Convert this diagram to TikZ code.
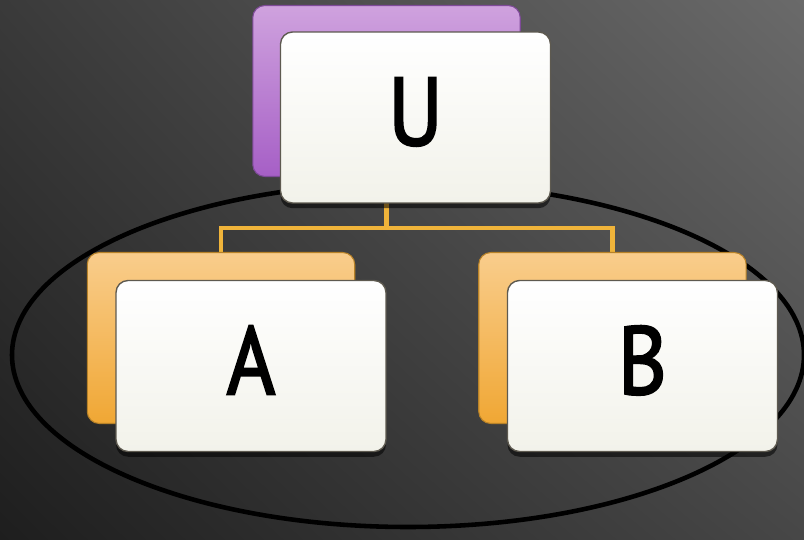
\documentclass[tikz,border=0pt]{standalone}
\usepackage{fontspec}
\newfontfamily\cardfont[FakeStretch=0.86, FakeBold=2.2]{PT Sans}
\usetikzlibrary{positioning,backgrounds,shadows,shadings}
\definecolor{bgul}{HTML}{3A3A3A}
\definecolor{bgur}{HTML}{6A6A6A}
\definecolor{bgll}{HTML}{1E1E1E}
\definecolor{bglr}{HTML}{474747}
\definecolor{purpletop}{HTML}{CFA2DE}
\definecolor{purplebot}{HTML}{A65FC6}
\definecolor{purpleedge}{HTML}{7E4A98}
\definecolor{orangetop}{HTML}{F9CD8C}
\definecolor{orangebot}{HTML}{F0A734}
\definecolor{orangeedge}{HTML}{B88228}
\definecolor{cardbot}{HTML}{F2F2EA}
\definecolor{cardedge}{HTML}{5E5A50}
\definecolor{linkcol}{HTML}{F0B43A}
\tikzset{
  back/.style={rounded corners=0.24cm, line width=0.6pt, minimum width=5.35cm, minimum height=3.42cm},
  purpleback/.style={back, draw=purpleedge, top color=purpletop, bottom color=purplebot},
  orangeback/.style={back, draw=orangeedge, top color=orangetop, bottom color=orangebot},
  card/.style={draw=cardedge, line width=0.8pt, rounded corners=0.24cm, top color=white, bottom color=cardbot,
    minimum width=5.4cm, minimum height=3.42cm, text depth=0.24cm,
    font=\cardfont\fontsize{55}{60}\selectfont,
    drop shadow={shadow xshift=0pt, shadow yshift=-3pt, opacity=0.55, fill=black}},
  link/.style={draw=linkcol, line width=2.8pt},
}
\begin{document}
\begin{tikzpicture}[x=0.02cm, y=-0.02cm]
  \useasboundingbox (0,0) rectangle (804,540);
  % top card
  \node[purpleback] (uback) at (386.5,91) {};
  \node[card, xshift=0.58cm, yshift=-0.53cm] (u) at (uback) {U};
  % lower cards
  \node[orangeback] (aback) at (221,338) {};
  \node[orangeback, right=2.46cm of aback] (bback) {};
  \node[card, xshift=0.6cm, yshift=-0.56cm] (a) at (aback) {A};
  \node[card, xshift=0.6cm, yshift=-0.56cm] (b) at (bback) {B};
  \coordinate[below=1.02cm of uback.south] (split);
  \begin{scope}[on background layer]
    \shade[upper left=bgul, upper right=bgur, lower left=bgll, lower right=bglr] (0,0) rectangle (804,540);
    \draw[black, line width=2.6pt] (408,355) ellipse (396 and 172);
    \draw[link] (uback.south) -- (split);
    \draw[link] (split) -| (aback.north);
    \draw[link] (split) -| (bback.north);
  \end{scope}
\end{tikzpicture}
\end{document}
